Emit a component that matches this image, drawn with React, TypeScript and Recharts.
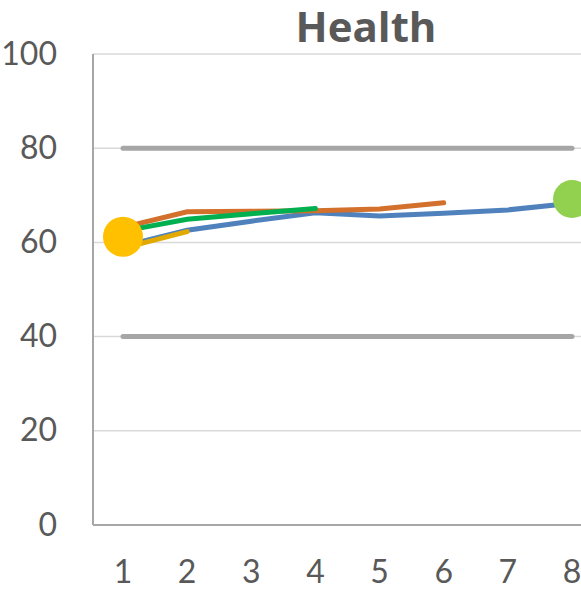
import { ComposedChart, Line, XAxis, YAxis, CartesianGrid } from "recharts";

// x categories and series values
const periods = [1, 2, 3, 4, 5, 6, 7, 8];
const blueVals = [59.2, 62.6, 64.5, 66.3, 65.6, 66.2, 66.9, 68.3];
const orangeVals = [63.2, 66.5, 66.6, 66.7, 67.1, 68.4, null, null];
const greenVals = [62.4, 64.9, 66.1, 67.2, null, null, null, null];
const goldVals = [58.8, 62.3, null, null, null, null, null, null];
const upperLimit = [80, 80, 80, 80, 80, 80, 80, 80];
const lowerLimit = [40, 40, 40, 40, 40, 40, 40, 40];
const startMarker = [61.2, null, null, null, null, null, null, null];
const endMarker = [null, null, null, null, null, null, null, 69.2];
const yTicks = [0, 20, 40, 60, 80, 100];

const data = periods.map((p, i) => ({
  period: p,
  blue: blueVals[i],
  orange: orangeVals[i],
  green: greenVals[i],
  gold: goldVals[i],
  upper: upperLimit[i],
  lower: lowerLimit[i],
  start: startMarker[i],
  end: endMarker[i],
}));

const FONT = "Lato, 'Open Sans', sans-serif";
const TEXT = "#595959";

const YTick = ({ x, y, payload }: any) => (
  <text x={x - 36} y={y} dy="0.33em" textAnchor="end" fill={TEXT} fontSize={32} fontFamily={FONT}>
    {payload.value}
  </text>
);

const XTick = ({ x, y, payload }: any) => (
  <text x={x} y={y + 58} textAnchor="middle" fill={TEXT} fontSize={32} fontFamily={FONT}>
    {payload.value}
  </text>
);

export default function App() {
  const W = 620;
  const H = 593;
  return (
    <div style={{ position: "absolute", left: 0, top: 0, width: 581, height: 593, overflow: "hidden", background: "#fff" }}>
      <ComposedChart width={W} height={H} data={data} margin={{ top: 54, right: 18, bottom: 0, left: 0 }}>
        <CartesianGrid vertical={false} stroke="#d9d9d9" strokeWidth={1.5} />
        <XAxis
          dataKey="period"
          height={68}
          padding={{ left: 30, right: 30 }}
          axisLine={{ stroke: "#a6a6a6", strokeWidth: 2 }}
          tickLine={false}
          tickSize={0}
          tickMargin={0}
          tick={<XTick />}
        />
        <YAxis
          width={93}
          domain={[0, 100]}
          ticks={yTicks}
          axisLine={{ stroke: "#a6a6a6", strokeWidth: 2 }}
          tickLine={false}
          tickSize={0}
          tickMargin={0}
          tick={<YTick />}
        />
        <Line dataKey="upper" stroke="#a6a6a6" strokeWidth={5} strokeLinecap="round" dot={false} isAnimationActive={false} />
        <Line dataKey="lower" stroke="#a6a6a6" strokeWidth={5} strokeLinecap="round" dot={false} isAnimationActive={false} />
        <Line dataKey="start" stroke="none" dot={{ r: 20, fill: "#ffc000", stroke: "none" }} isAnimationActive={false} />
        <Line dataKey="end" stroke="none" dot={{ r: 19, fill: "#92d050", stroke: "none" }} isAnimationActive={false} />
        <Line dataKey="blue" stroke="#4f81bd" strokeWidth={5} strokeLinecap="round" dot={false} isAnimationActive={false} />
        <Line dataKey="orange" stroke="#d2702c" strokeWidth={5} strokeLinecap="round" dot={false} isAnimationActive={false} />
        <Line dataKey="green" stroke="#00b050" strokeWidth={5} strokeLinecap="round" dot={false} isAnimationActive={false} />
        <Line dataKey="gold" stroke="#e2aa00" strokeWidth={5} strokeLinecap="round" dot={false} isAnimationActive={false} />
      </ComposedChart>
      <svg width={581} height={60} style={{ position: "absolute", left: 0, top: 0 }}>
        <text x={366} y={42} textAnchor="middle" fill={TEXT} fontSize={42} fontWeight="bold" fontFamily="'Open Sans', sans-serif">
          Health
        </text>
      </svg>
    </div>
  );
}
